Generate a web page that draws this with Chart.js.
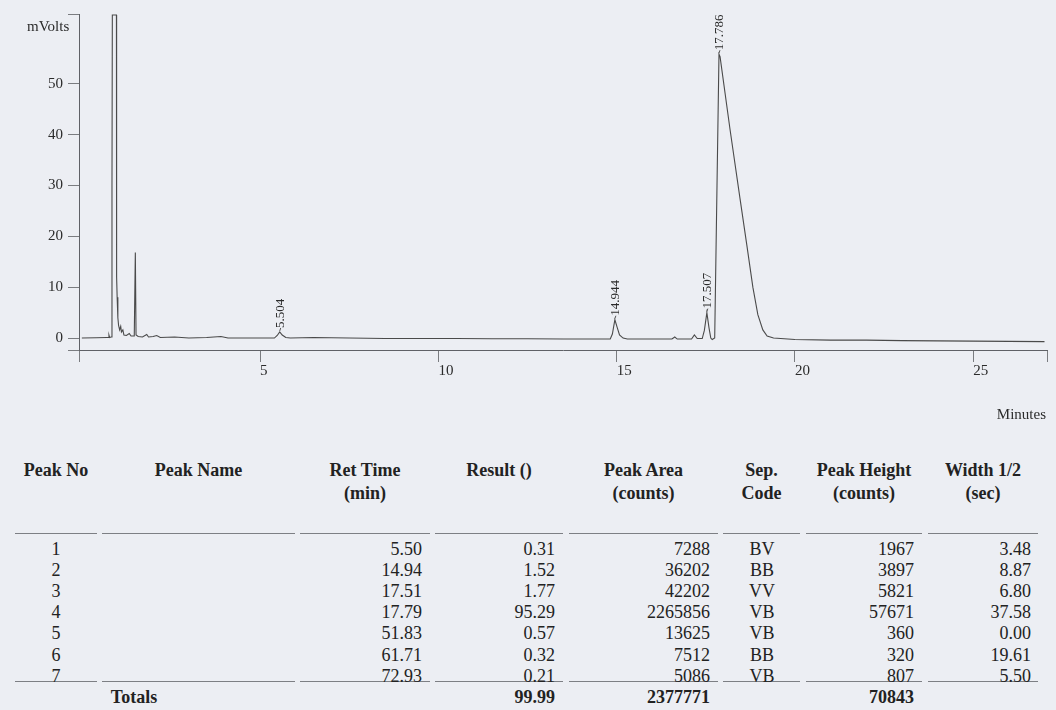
<!DOCTYPE html>
<html>
<head>
<meta charset="utf-8">
<script src="https://cdn.jsdelivr.net/npm/chart.js@4.4.1/dist/chart.umd.min.js"></script>
<style>
  html, body { margin: 0; padding: 0; }
  body { width: 1056px; height: 710px; background: #eceef3; position: relative; overflow: hidden;
         font-family: "Liberation Serif", "Times New Roman", serif; color: #222; }
  #wrap { position: absolute; left: 0; top: 0; width: 1056px; height: 430px; }
  .cell { position: absolute; font-size: 18px; line-height: 20px; white-space: nowrap; }
  .hdr { font-weight: bold; text-align: center; }
  .rule { position: absolute; height: 0; border-top: 1px solid #7d7f84; }
</style>
</head>
<body>
<div id="wrap"><canvas id="grafico" width="1056" height="430"></canvas></div>
<div id="tabla"></div>
<script>
// chromatogram trace (minutes, mVolts)
const minutes = [0.00, 0.40, 0.70, 0.74, 0.76, 0.78, 0.82, 0.845, 0.855, 0.97, 0.975, 0.99, 1.01, 1.03, 1.06, 1.09, 1.11, 1.15, 1.18, 1.25, 1.33, 1.38, 1.47, 1.50, 1.52, 1.58, 1.70, 1.82, 1.87, 2.00, 2.10, 2.20, 2.60, 3.00, 3.50, 3.90, 4.10, 4.60, 5.00, 5.40, 5.48, 5.55, 5.62, 5.72, 5.85, 6.50, 7.50, 8.50, 9.50, 10.50, 11.50, 12.50, 13.50, 14.50, 14.82, 14.88, 14.95, 15.01, 15.08, 15.18, 15.30, 16.00, 16.55, 16.63, 16.70, 17.10, 17.18, 17.26, 17.40, 17.46, 17.53, 17.59, 17.64, 17.68, 17.75, 17.87, 17.90, 18.18, 18.46, 18.65, 18.82, 18.96, 19.10, 19.22, 19.40, 20.00, 21.00, 22.00, 23.00, 24.00, 25.00, 26.00, 27.00];
const mvolts = [0.0, 0.05, 0.1, 0.1, 0.6, 0.1, 0.2, 30, 63.5, 63.5, 12, 8, 4, 2.5, 1.6, 2.3, 1.2, 1.6, 0.6, 0.5, 0.9, 0.4, 0.4, 16.8, 0.6, 0.3, 0.2, 0.7, 0.2, 0.3, 0.5, 0.1, 0.2, 0.0, 0.1, 0.3, 0.0, 0.0, 0.0, 0.0, 0.5, 1.2, 0.6, 0.1, 0.0, 0.1, 0.0, -0.1, -0.1, -0.1, -0.15, -0.15, -0.2, -0.2, -0.2, 0.8, 3.6, 2.2, 0.6, 0.0, -0.2, -0.2, -0.2, 0.2, -0.2, -0.2, 0.6, -0.1, -0.1, 1.5, 5.0, 2.0, 0.0, -0.3, 0.0, 55.8, 55.3, 41.0, 27.4, 18.3, 10.0, 4.6, 1.6, 0.4, 0.0, -0.3, -0.4, -0.4, -0.5, -0.55, -0.6, -0.65, -0.7];

const peakApex = [5.55, 14.95, 17.53, 17.87];
const peakLabels = ['5.504', '14.944', '17.507', '17.786'];

const xTickValues = [5, 10, 15, 20, 25];
const yTickValues = [0, 10, 20, 30, 40, 50];

// results table
const peakNo = ['1', '2', '3', '4', '5', '6', '7'];
const retTime = ['5.50', '14.94', '17.51', '17.79', '51.83', '61.71', '72.93'];
const result = ['0.31', '1.52', '1.77', '95.29', '0.57', '0.32', '0.21'];
const peakArea = ['7288', '36202', '42202', '2265856', '13625', '7512', '5086'];
const sepCode = ['BV', 'BB', 'VV', 'VB', 'VB', 'BB', 'VB'];
const peakHeight = ['1967', '3897', '5821', '57671', '360', '320', '807'];
const widthHalf = ['3.48', '8.87', '6.80', '37.58', '0.00', '19.61', '5.50'];
const totalResult = '99.99';
const totalArea = '2377771';
const totalHeight = '70843';

const serif = '"Liberation Serif", "Times New Roman", serif';

const etiquetasPicos = {
    id: 'etiquetasPicos',
    afterDatasetsDraw(chart) {
        const ctx = chart.ctx;
        const x = chart.scales.x, y = chart.scales.y;
        ctx.save();
        ctx.fillStyle = '#2b2b2b';
        ctx.font = '15px ' + serif;
        ctx.textBaseline = 'middle';
        ctx.textAlign = 'left';
        ctx.fillText('mVolts', 27, 27);
        ctx.textAlign = 'right';
        ctx.fillText('Minutes', 1046, 415);

        ctx.font = '13px ' + serif;
        ctx.strokeStyle = '#555';
        ctx.lineWidth = 1;
        peakApex.forEach((t, i) => {
            let idx = minutes.indexOf(t);
            let px = x.getPixelForValue(t);
            let py = y.getPixelForValue(mvolts[idx]);
            ctx.beginPath();
            ctx.moveTo(px, py - 1);
            ctx.lineTo(px + 1, py - 4);
            ctx.stroke();
            ctx.save();
            ctx.translate(px + 1, py - 4);
            ctx.rotate(-Math.PI / 2);
            ctx.textAlign = 'left';
            ctx.textBaseline = 'middle';
            ctx.fillText(peakLabels[i], 0, 0);
            ctx.restore();
        });
        ctx.restore();
    }
};

const renderizarGrafico = () => {
    let ctx = document.getElementById('grafico').getContext('2d');
    new Chart(ctx, {
        type: 'line',
        data: {
            datasets: [{
                data: minutes.map((t, i) => ({ x: t, y: mvolts[i] })),
                borderColor: '#4a4a4a',
                borderWidth: 1.1,
                pointRadius: 0,
                tension: 0,
                fill: false
            }]
        },
        options: {
            responsive: false,
            animation: false,
            devicePixelRatio: 1,
            layout: { padding: { top: 12, right: 9, left: 0, bottom: 0 } },
            plugins: { legend: { display: false }, tooltip: { enabled: false } },
            scales: {
                x: {
                    type: 'linear',
                    min: -0.08,
                    max: 27.07,
                    afterFit: s => { s.height = 80; },
                    afterBuildTicks: s => { s.ticks = [s.min, ...xTickValues, s.max].map(v => ({ value: v })); },
                    border: { display: true, color: '#5f6166', width: 1 },
                    grid: { drawOnChartArea: false, drawTicks: true, tickLength: 12, color: '#7a7c80' },
                    ticks: {
                        align: 'start',
                        padding: 0,
                        maxRotation: 0,
                        autoSkip: false,
                        color: '#2b2b2b',
                        font: { family: serif, size: 15 },
                        callback: v => xTickValues.includes(v) ? String(v) : ''
                    }
                },
                y: {
                    min: -2.35,
                    max: 63.7,
                    afterFit: s => { s.width = 79; },
                    afterBuildTicks: s => { s.ticks = [s.min, ...yTickValues, s.max].map(v => ({ value: v })); },
                    border: { display: true, color: '#5f6166', width: 1 },
                    grid: { drawOnChartArea: false, drawTicks: true, tickLength: 11, color: '#7a7c80' },
                    ticks: {
                        padding: 5,
                        autoSkip: false,
                        color: '#2b2b2b',
                        font: { family: serif, size: 15 },
                        callback: v => yTickValues.includes(v) ? String(v) : ''
                    }
                }
            }
        },
        plugins: [etiquetasPicos]
    });
}

const renderizarTabla = () => {
    let tabla = document.getElementById('tabla');
    // column layout: rule segment, header centre, value anchor
    const cols = [
        { l: 15, r: 97, head: ['Peak No'], align: 'center', ax: 56 },
        { l: 102, r: 295, head: ['Peak Name'], align: 'center', ax: 199 },
        { l: 300, r: 430, head: ['Ret Time', '(min)'], align: 'right', ax: 422 },
        { l: 435, r: 563, head: ['Result ()'], align: 'right', ax: 555 },
        { l: 569, r: 718, head: ['Peak Area', '(counts)'], align: 'right', ax: 710 },
        { l: 723, r: 800, head: ['Sep.', 'Code'], align: 'center', ax: 762 },
        { l: 806, r: 922, head: ['Peak Height', '(counts)'], align: 'right', ax: 914 },
        { l: 928, r: 1038, head: ['Width 1/2', '(sec)'], align: 'right', ax: 1031 }
    ];
    const columnas = [peakNo, null, retTime, result, peakArea, sepCode, peakHeight, widthHalf];
    const totales = [null, null, null, totalResult, totalArea, null, totalHeight, null];

    const addText = (txt, cx, cy, align, cls) => {
        let d = document.createElement('div');
        d.className = 'cell' + (cls ? ' ' + cls : '');
        d.textContent = txt;
        d.style.top = (cy - 10) + 'px';
        if (align === 'right') {
            d.style.right = (1056 - cx) + 'px';
        } else {
            d.style.left = (cx - 100) + 'px';
            d.style.width = '200px';
            d.style.textAlign = 'center';
        }
        tabla.appendChild(d);
    };
    const addRule = (l, r, y) => {
        let d = document.createElement('div');
        d.className = 'rule';
        d.style.left = l + 'px';
        d.style.width = (r - l) + 'px';
        d.style.top = y + 'px';
        tabla.appendChild(d);
    };

    cols.forEach((c, j) => {
        let cx = (c.l + c.r) / 2;
        c.head.forEach((h, k) => addText(h, cx, 470 + k * 23, 'center', 'hdr'));
        addRule(c.l, c.r, 533);
        addRule(c.l, c.r, 681);
        if (columnas[j]) {
            columnas[j].forEach((v, i) => addText(v, c.ax, 549 + i * 21.1, c.align));
        }
        if (totales[j]) addText(totales[j], c.ax, 697, 'right', 'hdr');
    });
    addText('Totals', 134, 697, 'center', 'hdr');
}

renderizarGrafico();
renderizarTabla();
</script>
</body>
</html>
